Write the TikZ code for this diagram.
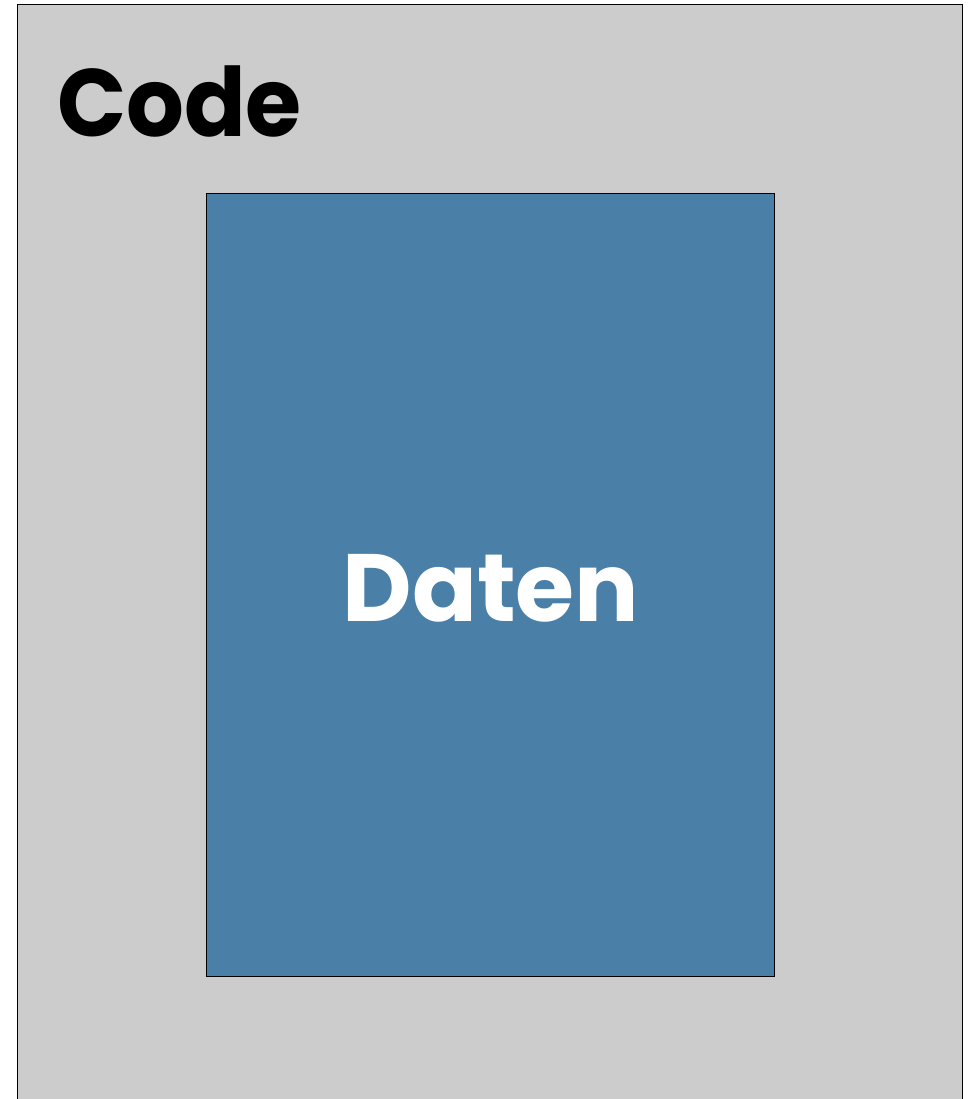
\documentclass[tikz,border=0pt]{standalone}
\usepackage{fontspec}
\setmainfont{Poppins}
\definecolor{codegray}{HTML}{CCCCCC}
\definecolor{datablue}{HTML}{4A80A8}
\begin{document}
\begin{tikzpicture}[x=1bp,y=-1bp,
  box/.style={draw=black, line width=0.8bp},
  biglabel/.style={font=\fontsize{96}{96}\selectfont\bfseries, inner sep=0pt}]
\useasboundingbox (0,0) rectangle (971,1099);
\path[box, fill=codegray] (17.5,4) rectangle (962.5,1110);
\path[box, fill=datablue] (206,193) rectangle (774,976);
\node[biglabel, anchor=base west, xscale=0.95] (code) at (57,136) {Code};
\node[biglabel, text=white, anchor=base] (daten) at (491,621) {Daten};
\end{tikzpicture}
\end{document}
